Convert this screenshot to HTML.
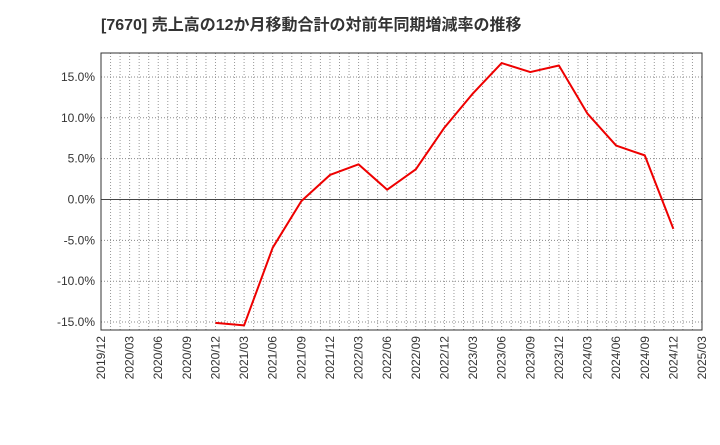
<!DOCTYPE html>
<html><head><meta charset="utf-8"><style>
body{margin:0;background:#fff;width:720px;height:440px;overflow:hidden}
text{font-family:"Liberation Sans","Noto Sans CJK JP",sans-serif}
</style></head><body>
<svg id="chart" width="720" height="440" xmlns="http://www.w3.org/2000/svg">
<text x="101" y="30" font-size="16" font-weight="bold" fill="#333">[7670]  売上高の12か月移動合計の対前年同期増減率の推移</text>
<g id="grid"></g><g id="axes"></g><g id="series"></g>
</svg>
<script>
const xLabels=["2019/12","2020/03","2020/06","2020/09","2020/12","2021/03","2021/06","2021/09","2021/12","2022/03","2022/06","2022/09","2022/12","2023/03","2023/06","2023/09","2023/12","2024/03","2024/06","2024/09","2024/12","2025/03"];
const yTicks=[-15,-10,-5,0,5,10,15];
const dataIdx=[4,5,6,7,8,9,10,11,12,13,14,15,16,17,18,19,20];
const dataVals=[-15.1,-15.4,-5.9,-0.2,3.0,4.3,1.2,3.7,8.8,13.0,16.7,15.6,16.4,10.5,6.6,5.4,-3.6];
const L=101,R=702,T=53,B=330;
const xs=i=>L+(R-L)*i/(xLabels.length-1);
const ys=v=>199.5-v*8.17;
const NS="http://www.w3.org/2000/svg";
function mk(tag,attrs,parent){const e=document.createElementNS(NS,tag);for(const k in attrs)e.setAttribute(k,attrs[k]);document.getElementById(parent).appendChild(e);return e;}
for(let m=1;m<(xLabels.length-1)*3;m++){const x=L+(R-L)*m/((xLabels.length-1)*3);
const g=mk('line',{x1:x,x2:x,y1:T,y2:B,stroke:'#999','stroke-width':1,'stroke-dasharray':'1,2'},'grid');

}
yTicks.forEach(v=>{const y=ys(v);
const g=mk('line',{x1:L,x2:R,y1:y,y2:y,stroke:v===0?'#444':'#888','stroke-width':1,'stroke-dasharray':v===0?'':'1,2'},'grid');


const t=mk('text',{x:L-6,y:y+4,'text-anchor':'end','font-size':12,fill:'#333'},'axes');t.textContent=v.toFixed(1)+'%';

});
const fr=mk('rect',{x:L,y:T,width:R-L,height:B-T,fill:'none',stroke:'#333','stroke-width':1},'axes');


xLabels.forEach((s,i)=>{const x=xs(i);
const t=mk('text',{x:x+4,y:B+6,'text-anchor':'end','font-size':12,fill:'#333',transform:`rotate(-90 ${x+4} ${B+6})`},'axes');t.textContent=s;

});
const pts=dataIdx.map((i,k)=>xs(i)+','+ys(dataVals[k])).join(' ');
const pl=mk('polyline',{points:pts,fill:'none',stroke:'#e00','stroke-width':2,'stroke-linejoin':'round'},'series');


</script>
</body></html>
